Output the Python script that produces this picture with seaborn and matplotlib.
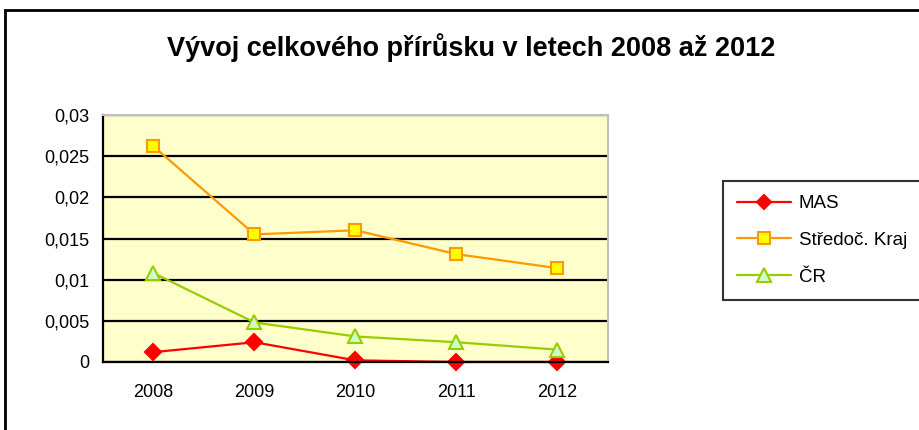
import pandas as pd
import matplotlib
matplotlib.use("Agg")
import matplotlib.pyplot as plt
import seaborn as sns
from matplotlib.ticker import FuncFormatter, FixedLocator
from matplotlib.patches import Rectangle

# data
years = ["2008", "2009", "2010", "2011", "2012"]
mas = [0.0012, 0.0024, 0.0002, 0.0, 0.0]
stredoc = [0.0262, 0.0155, 0.0160, 0.0131, 0.0114]
cr = [0.0108, 0.0048, 0.0031, 0.0024, 0.0015]
series_names = ["MAS", "Středoč. Kraj", "ČR"]

df = pd.DataFrame({
    "pos": list(range(len(years))) * 3,
    "value": mas + stredoc + cr,
    "series": [s for s in series_names for _ in years],
})

sns.set_style("white")
plt.rcParams["font.family"] = ["Liberation Sans", "DejaVu Sans"]
plt.rcParams["text.color"] = "black"
plt.rcParams["xtick.color"] = "black"
plt.rcParams["ytick.color"] = "black"

fig = plt.figure(figsize=(9.2, 4.3), dpi=100)
ax = fig.add_axes([103 / 920, 68 / 430, 505 / 920, 247 / 430])
ax.set_facecolor("#FFFFCC")

palette = {"MAS": "#FF0000", "Středoč. Kraj": "#FF9900", "ČR": "#99CC00"}
markers = {"MAS": "D", "Středoč. Kraj": "s", "ČR": "^"}
sns.lineplot(data=df, x="pos", y="value", hue="series", style="series",
             palette=palette, markers=markers, dashes=False, linewidth=1.6,
             markersize=9, ax=ax, legend=False)

# marker faces like the original
faces = {"MAS": "#FF0000", "Středoč. Kraj": "#FFFF00", "ČR": "#CCFFCC"}
sizes = {"MAS": 8, "Středoč. Kraj": 9, "ČR": 10}
for line, name in zip(ax.lines, series_names):
    line.set_markerfacecolor(faces[name])
    line.set_markeredgecolor(palette[name])
    line.set_markeredgewidth(1.5)
    line.set_markersize(sizes[name])
    line.set_clip_on(False)

ax.set_xlim(-0.5, len(years) - 0.5)
ax.set_ylim(0, 0.03)
ax.set_yticks([0, 0.005, 0.01, 0.015, 0.02, 0.025, 0.03])
ax.yaxis.set_major_formatter(FuncFormatter(lambda v, p: "0" if v == 0 else ("%g" % v).replace(".", ",")))
ax.set_xticks(range(len(years)))
ax.set_xticklabels(years)
ax.xaxis.set_minor_locator(FixedLocator([i - 0.5 for i in range(len(years) + 1)]))
ax.tick_params(axis="x", which="major", length=0, pad=16, labelsize=13)
ax.tick_params(axis="x", which="minor", length=6, width=1.2, color="black", direction="out")
ax.tick_params(axis="y", length=6, width=1.2, color="black", direction="out", labelsize=13, pad=4)
ax.set_xlabel("")
ax.set_ylabel("")

ax.grid(axis="y", color="black", linewidth=1.6)
ax.set_axisbelow(True)
for side in ["left", "bottom"]:
    ax.spines[side].set_color("black")
    ax.spines[side].set_linewidth(1.6)
for side in ["top", "right"]:
    ax.spines[side].set_color("#C0C0C0")
    ax.spines[side].set_linewidth(1.5)

fig.text(0.512, 0.89, "Vývoj celkového přírůsku v letech 2008 až 2012",
         ha="center", va="center", fontsize=19.5, fontweight="bold", color="black")

handles = [plt.Line2D([], [], color=palette[n], marker=markers[n], markersize=sizes[n] - 0.5,
                      markerfacecolor=faces[n], markeredgecolor=palette[n], markeredgewidth=1.5,
                      linewidth=1.6) for n in series_names]
leg = fig.legend(handles, series_names, loc="upper left",
                 bbox_to_anchor=(723 / 920, 1 - 181 / 430), frameon=True, fontsize=13.5,
                 fancybox=False, borderpad=0.75, labelspacing=1.05, handlelength=2.9,
                 handletextpad=0.4, borderaxespad=0)
leg.get_frame().set_edgecolor("black")
leg.get_frame().set_linewidth(1.5)

# outer chart border
fig.patches.append(Rectangle((5 / 920, -0.05), 1.0, 1 - 10 / 430 + 0.05, transform=fig.transFigure,
                             fill=False, edgecolor="black", linewidth=2))

fig.savefig("out.png", dpi=100, facecolor="white")
